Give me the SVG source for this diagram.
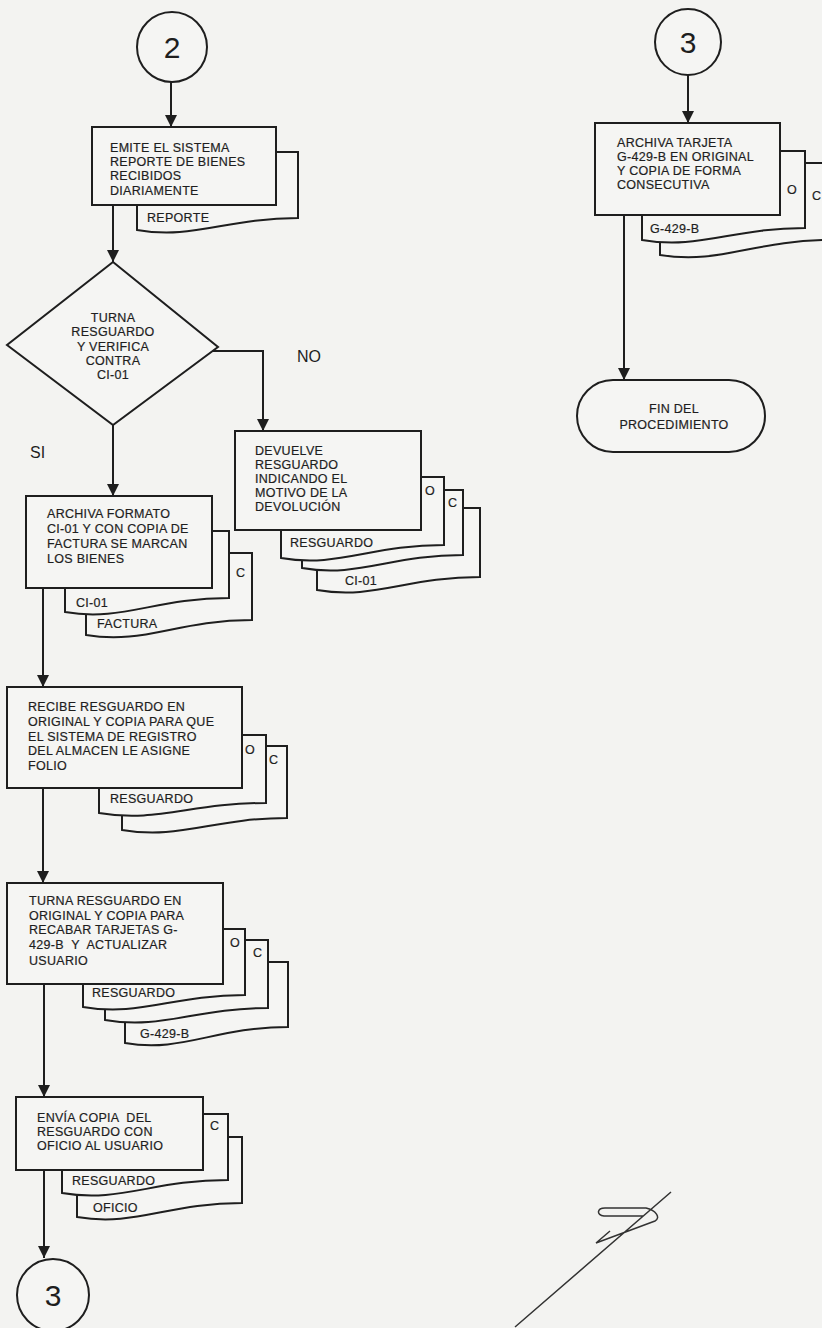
<svg xmlns="http://www.w3.org/2000/svg" width="822" height="1328" viewBox="0 0 822 1328">
<style>
.bg{fill:#f3f3f1}
.sh{fill:#f5f5f3;stroke:#1e1e1e;stroke-width:2}
.t{font-family:"Liberation Sans",Arial,sans-serif;font-size:12.5px;letter-spacing:0.3px;fill:#1e1e1e;stroke:#1e1e1e;stroke-width:0.2px;white-space:pre}
.c{text-anchor:middle}
.big{font-family:"Liberation Sans",Arial,sans-serif;font-size:30px;fill:#1e1e1e;text-anchor:middle}
.lab{font-family:"Liberation Sans",Arial,sans-serif;font-size:16px;fill:#1e1e1e}
.ln{fill:none;stroke:#1e1e1e;stroke-width:2}
</style>
<defs>
<marker id="ah" viewBox="0 0 10 10" refX="10" refY="5" markerWidth="12" markerHeight="12" markerUnits="userSpaceOnUse" orient="auto">
<path d="M0,0 L10,5 L0,10 z" fill="#1e1e1e"/>
</marker>
</defs>
<rect class="bg" x="0" y="0" width="822" height="1328"/>

<g id="connectors">
<path class="ln" d="M171,82 V127" marker-end="url(#ah)"/>
<path class="ln" d="M113,205 V262" marker-end="url(#ah)"/>
<path class="ln" d="M113,425 V496" marker-end="url(#ah)"/>
<path class="ln" d="M212,351 H263 V431" marker-end="url(#ah)"/>
<path class="ln" d="M43,588 V687" marker-end="url(#ah)"/>
<path class="ln" d="M43,788 V883" marker-end="url(#ah)"/>
<path class="ln" d="M44,984 V1097" marker-end="url(#ah)"/>
<path class="ln" d="M44,1170 V1258" marker-end="url(#ah)"/>
<path class="ln" d="M688,75 V123" marker-end="url(#ah)"/>
<path class="ln" d="M624,215 V380" marker-end="url(#ah)"/>
<text class="lab" x="297" y="362">NO</text>
<text class="lab" x="30" y="458">SI</text>
</g>

<g id="c2">
<circle class="sh" cx="172" cy="47" r="35"/>
<text class="big" x="172" y="58">2</text>
</g>

<g id="emite">
<path class="sh" d="M137,152 H298 V218 C226,218 193,240 137,230 Z"/>
<text class="t" x="147" y="222">REPORTE</text>
<rect class="sh" x="92" y="127" width="184" height="78"/>
<text class="t" x="110" y="152">EMITE EL SISTEMA</text>
<text class="t" x="110" y="166">REPORTE DE BIENES</text>
<text class="t" x="110" y="180">RECIBIDOS</text>
<text class="t" x="110" y="195">DIARIAMENTE</text>
</g>

<g id="decision">
<polygon class="sh" points="113,262 218,347 113,425 7,345"/>
<text class="t c" x="113" y="322">TURNA</text>
<text class="t c" x="113" y="336">RESGUARDO</text>
<text class="t c" x="113" y="351">Y VERIFICA</text>
<text class="t c" x="113" y="365">CONTRA</text>
<text class="t c" x="113" y="379">CI-01</text>
</g>

<g id="devuelve">
<path class="sh" d="M317,508 H480 V577 C407,577 374,600 317,590 Z"/>
<text class="t" x="345" y="585">CI-01</text>
<path class="sh" d="M302,490 H463 V555 C391,555 358,578 302,568 Z"/>
<text class="t" x="448" y="507">C</text>
<path class="sh" d="M281,477 H444 V545 C371,545 338,568 281,558 Z"/>
<text class="t" x="425" y="495">O</text>
<text class="t" x="290" y="547">RESGUARDO</text>
<rect class="sh" x="235" y="431" width="186" height="99"/>
<text class="t" x="255" y="455">DEVUELVE</text>
<text class="t" x="255" y="469">RESGUARDO</text>
<text class="t" x="255" y="483">INDICANDO EL</text>
<text class="t" x="255" y="497">MOTIVO DE LA</text>
<text class="t" x="255" y="511">DEVOLUCIÓN</text>
</g>

<g id="archiva">
<path class="sh" d="M86,553 H252 V620 C177,620 144,645 86,635 Z"/>
<text class="t" x="236" y="577">C</text>
<text class="t" x="97" y="628">FACTURA</text>
<path class="sh" d="M65,531 H229 V598 C155,598 122,622 65,612 Z"/>
<text class="t" x="76" y="607">CI-01</text>
<rect class="sh" x="26" y="496" width="186" height="92"/>
<text class="t" x="47" y="518">ARCHIVA FORMATO</text>
<text class="t" x="47" y="533">CI-01 Y CON COPIA DE</text>
<text class="t" x="47" y="548">FACTURA SE MARCAN</text>
<text class="t" x="47" y="563">LOS BIENES</text>
</g>

<g id="recibe">
<path class="sh" d="M122,746 H287 V818 C213,818 180,840 122,830 Z"/>
<text class="t" x="269" y="764">C</text>
<path class="sh" d="M99,735 H266 V803 C191,803 157,823 99,813 Z"/>
<text class="t" x="245" y="754">O</text>
<text class="t" x="110" y="803">RESGUARDO</text>
<rect class="sh" x="7" y="687" width="235" height="101"/>
<text class="t" x="28" y="711">RECIBE RESGUARDO EN</text>
<text class="t" x="28" y="726">ORIGINAL Y COPIA PARA QUE</text>
<text class="t" x="28" y="741">EL SISTEMA DE REGISTRO</text>
<text class="t" x="28" y="755">DEL ALMACEN LE ASIGNE</text>
<text class="t" x="28" y="770">FOLIO</text>
</g>

<g id="turna">
<path class="sh" d="M125,962 H288 V1027 C215,1027 182,1053 125,1043 Z"/>
<text class="t" x="140" y="1038">G-429-B</text>
<path class="sh" d="M105,940 H268 V1008 C195,1008 162,1030 105,1020 Z"/>
<text class="t" x="253" y="957">C</text>
<path class="sh" d="M83,929 H245 V995 C172,995 140,1017 83,1007 Z"/>
<text class="t" x="230" y="947">O</text>
<text class="t" x="92" y="997">RESGUARDO</text>
<rect class="sh" x="7" y="883" width="216" height="101"/>
<text class="t" x="29" y="905">TURNA RESGUARDO EN</text>
<text class="t" x="29" y="920">ORIGINAL Y COPIA PARA</text>
<text class="t" x="29" y="934">RECABAR TARJETAS G-</text>
<text class="t" x="29" y="949">429-B  Y  ACTUALIZAR</text>
<text class="t" x="29" y="965">USUARIO</text>
</g>

<g id="envia">
<path class="sh" d="M77,1137 H242 V1203 C168,1203 135,1227 77,1217 Z"/>
<text class="t" x="93" y="1212">OFICIO</text>
<path class="sh" d="M62,1114 H228 V1180 C153,1180 120,1203 62,1193 Z"/>
<text class="t" x="210" y="1130">C</text>
<text class="t" x="72" y="1185">RESGUARDO</text>
<rect class="sh" x="16" y="1097" width="187" height="73"/>
<text class="t" x="37" y="1122">ENVÍA COPIA  DEL</text>
<text class="t" x="37" y="1136">RESGUARDO CON</text>
<text class="t" x="37" y="1150">OFICIO AL USUARIO</text>
</g>

<g id="c3bottom">
<circle class="sh" cx="53" cy="1295" r="36"/>
<text class="big" x="53" y="1306">3</text>
</g>

<g id="c3top">
<circle class="sh" cx="688" cy="42" r="33"/>
<text class="big" x="688" y="53">3</text>
</g>

<g id="archivaTarjeta">
<path class="sh" d="M660,163 H830 V240 C754,240 720,265 660,255 Z"/>
<text class="t" x="812" y="200">C</text>
<path class="sh" d="M642,151 H805 V228 C732,228 699,250 642,240 Z"/>
<text class="t" x="787" y="194">O</text>
<text class="t" x="650" y="233">G-429-B</text>
<rect class="sh" x="595" y="123" width="185" height="92"/>
<text class="t" x="617" y="147">ARCHIVA TARJETA</text>
<text class="t" x="617" y="161">G-429-B EN ORIGINAL</text>
<text class="t" x="617" y="175">Y COPIA DE FORMA</text>
<text class="t" x="617" y="189">CONSECUTIVA</text>
</g>

<g id="fin">
<rect class="sh" x="577" y="380" width="188" height="72" rx="36" ry="36"/>
<text class="t c" x="674" y="413">FIN DEL</text>
<text class="t c" x="674" y="429">PROCEDIMIENTO</text>
</g>

<path d="M515,1327 L671,1192 M643,1216 L604,1216 C596,1215 597,1208 605,1208 L646,1208 C656,1210 661,1218 655,1221 L596,1243 L610,1231" fill="none" stroke="#333" stroke-width="1.5"/>
</svg>
